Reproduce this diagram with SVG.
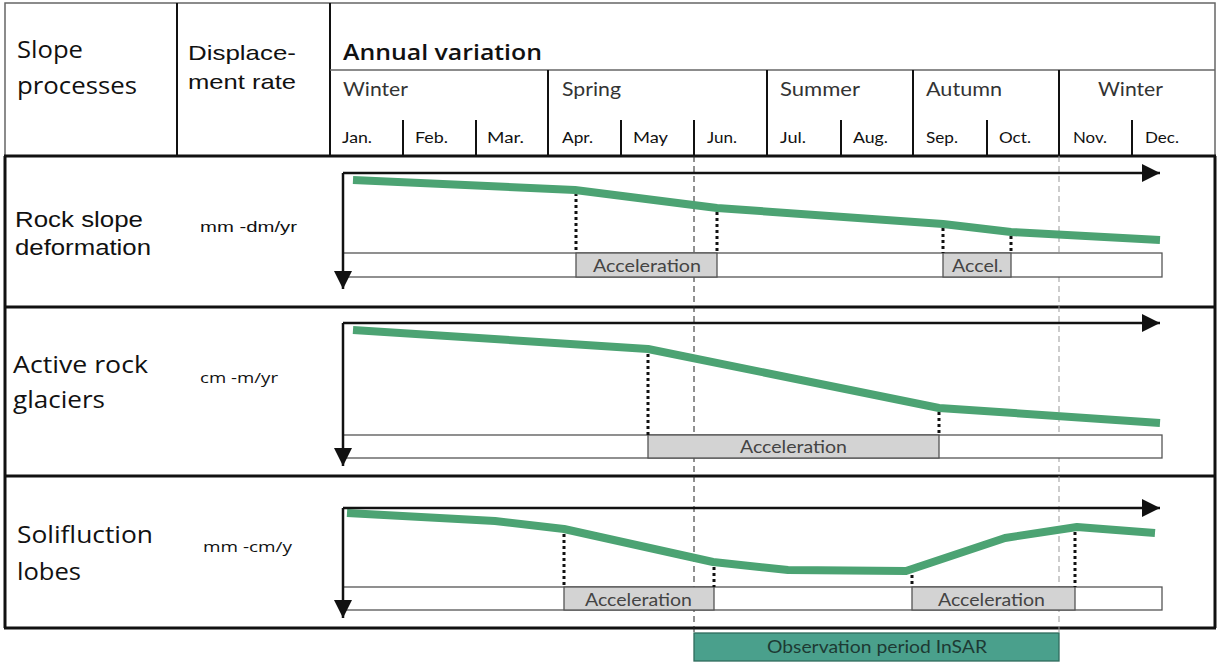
<svg xmlns="http://www.w3.org/2000/svg" width="1218" height="662" viewBox="0 0 1218 662">
<style>
.hd{font-family:"Open Sans","Liberation Sans",sans-serif;fill:#111}
.ar{font-family:"Liberation Sans",Arial,sans-serif;fill:#111}
.ss{font-family:Lato,"Open Sans",sans-serif;fill:#333;font-size:19px}
.mo{font-family:Lato,"Open Sans",sans-serif;fill:#111;font-size:15px}
.acc{font-family:Lato,"Open Sans",sans-serif;fill:#444;font-size:17px}
.thin{stroke:#666;stroke-width:1.5;fill:none}
.blk{stroke:#111;stroke-width:2;fill:none}
.thick{stroke:#111;stroke-width:3;fill:none}
.axis{stroke:#111;stroke-width:2.5;fill:none}
.grn{stroke:#4ca373;stroke-width:8;fill:none;stroke-linejoin:round}
.dot{stroke:#111;stroke-width:3;stroke-dasharray:3 3;fill:none}
.bar{fill:#fff;stroke:#555;stroke-width:1.3}
.abar{fill:#d3d3d3;stroke:#555;stroke-width:1.3}
</style>
<defs>
<marker id="ah" viewBox="0 0 10 10" refX="10" refY="5" markerWidth="18" markerHeight="18" markerUnits="userSpaceOnUse" orient="auto"><path d="M0,0 L10,5 L0,10 z" fill="#111"/></marker>
</defs>
<rect x="0" y="0" width="1218" height="662" fill="#fff"/>

<g id="header">
<rect x="5" y="3" width="1210" height="153" class="thin"/>
<line x1="177" y1="3" x2="177" y2="156" class="blk"/>
<line x1="330" y1="3" x2="330" y2="156" class="blk"/>
<line x1="330" y1="70" x2="1215" y2="70" class="thin"/>
<line x1="548" y1="70" x2="548" y2="156" class="blk"/>
<line x1="767" y1="70" x2="767" y2="156" class="blk"/>
<line x1="913" y1="70" x2="913" y2="156" class="blk"/>
<line x1="1059" y1="70" x2="1059" y2="156" class="blk"/>
<g class="blk">
<line x1="403" y1="120" x2="403" y2="156"/>
<line x1="476" y1="120" x2="476" y2="156"/>
<line x1="621" y1="120" x2="621" y2="156"/>
<line x1="694" y1="120" x2="694" y2="156"/>
<line x1="841" y1="120" x2="841" y2="156"/>
<line x1="987" y1="120" x2="987" y2="156"/>
<line x1="1132" y1="120" x2="1132" y2="156"/>
</g>
<text class="hd" x="17" y="58" font-size="23" textLength="66" lengthAdjust="spacingAndGlyphs">Slope</text>
<text class="hd" x="17" y="94" font-size="23" textLength="120" lengthAdjust="spacingAndGlyphs">processes</text>
<text class="ar" x="188" y="60" font-size="21" textLength="108" lengthAdjust="spacingAndGlyphs">Displace-</text>
<text class="ar" x="188" y="89" font-size="21" textLength="108" lengthAdjust="spacingAndGlyphs">ment rate</text>
<text class="hd" x="343" y="60" font-size="22" font-weight="600" textLength="199" lengthAdjust="spacingAndGlyphs">Annual variation</text>
<text class="ss" x="343" y="96" textLength="65" lengthAdjust="spacingAndGlyphs">Winter</text>
<text class="ss" x="562" y="96" textLength="59" lengthAdjust="spacingAndGlyphs">Spring</text>
<text class="ss" x="780" y="96" textLength="80" lengthAdjust="spacingAndGlyphs">Summer</text>
<text class="ss" x="926" y="96" textLength="76" lengthAdjust="spacingAndGlyphs">Autumn</text>
<text class="ss" x="1098" y="96" textLength="65" lengthAdjust="spacingAndGlyphs">Winter</text>
<text class="mo" x="342" y="143" textLength="30" lengthAdjust="spacingAndGlyphs">Jan.</text>
<text class="mo" x="415" y="143" textLength="33" lengthAdjust="spacingAndGlyphs">Feb.</text>
<text class="mo" x="487" y="143" textLength="37" lengthAdjust="spacingAndGlyphs">Mar.</text>
<text class="mo" x="562" y="143" textLength="31" lengthAdjust="spacingAndGlyphs">Apr.</text>
<text class="mo" x="633" y="143" textLength="35" lengthAdjust="spacingAndGlyphs">May</text>
<text class="mo" x="707" y="143" textLength="30" lengthAdjust="spacingAndGlyphs">Jun.</text>
<text class="mo" x="780" y="143" textLength="26" lengthAdjust="spacingAndGlyphs">Jul.</text>
<text class="mo" x="853" y="143" textLength="35" lengthAdjust="spacingAndGlyphs">Aug.</text>
<text class="mo" x="926" y="143" textLength="32" lengthAdjust="spacingAndGlyphs">Sep.</text>
<text class="mo" x="999" y="143" textLength="32" lengthAdjust="spacingAndGlyphs">Oct.</text>
<text class="mo" x="1073" y="143" textLength="34" lengthAdjust="spacingAndGlyphs">Nov.</text>
<text class="mo" x="1145" y="143" textLength="34" lengthAdjust="spacingAndGlyphs">Dec.</text>
</g>

<g id="frame">
<line x1="5" y1="156" x2="5" y2="628" class="thick"/>
<line x1="1215" y1="156" x2="1215" y2="628" class="thick"/>
<line x1="4" y1="156" x2="1216" y2="156" class="thick"/>
<line x1="4" y1="307" x2="1216" y2="307" class="thick"/>
<line x1="4" y1="476" x2="1216" y2="476" class="thick"/>
<line x1="4" y1="628" x2="1216" y2="628" class="thick"/>
</g>

<g id="guides">
<line x1="694" y1="156" x2="694" y2="634" stroke="#222" stroke-width="1" stroke-dasharray="6 4"/>
<line x1="1059" y1="156" x2="1059" y2="634" stroke="#999" stroke-width="1" stroke-dasharray="6 4"/>
</g>

<g id="row-rock-slope">
<text class="ar" x="15" y="227" font-size="22" textLength="128" lengthAdjust="spacingAndGlyphs">Rock slope</text>
<text class="ar" x="15" y="255" font-size="22" textLength="136" lengthAdjust="spacingAndGlyphs">deformation</text>
<text class="ar" x="200" y="232" font-size="15" textLength="97" lengthAdjust="spacingAndGlyphs">mm -dm/yr</text>
<rect x="343" y="253" width="819" height="24" class="bar"/>
<rect x="576" y="253" width="141" height="24" class="abar"/>
<rect x="943" y="253" width="68" height="24" class="abar"/>
<text class="acc" x="593" y="272" textLength="108" lengthAdjust="spacingAndGlyphs">Acceleration</text>
<text class="acc" x="952" y="272" textLength="51" lengthAdjust="spacingAndGlyphs">Accel.</text>
<line x1="576" y1="193" x2="576" y2="253" class="dot"/>
<line x1="717" y1="212" x2="717" y2="253" class="dot"/>
<line x1="943" y1="228" x2="943" y2="253" class="dot"/>
<line x1="1011" y1="236" x2="1011" y2="253" class="dot"/>
<polyline points="353,180 575,190 717,208 943,224 1011,232 1160,240" class="grn"/>
</g>

<g id="row-rock-glaciers">
<text class="hd" x="13" y="373" font-size="24" textLength="135" lengthAdjust="spacingAndGlyphs">Active rock</text>
<text class="hd" x="13" y="408" font-size="24" textLength="92" lengthAdjust="spacingAndGlyphs">glaciers</text>
<text class="hd" x="200" y="383" font-size="15" textLength="78" lengthAdjust="spacingAndGlyphs">cm -m/yr</text>
<rect x="343" y="435" width="819" height="23" class="bar"/>
<rect x="648" y="435" width="291" height="23" class="abar"/>
<text class="acc" x="740" y="453" textLength="107" lengthAdjust="spacingAndGlyphs">Acceleration</text>
<line x1="648" y1="354" x2="648" y2="435" class="dot"/>
<line x1="939" y1="412" x2="939" y2="435" class="dot"/>
<polyline points="353,330 648,349 939,408 1160,423" class="grn"/>
</g>

<g id="row-solifluction">
<text class="hd" x="17" y="543" font-size="24" textLength="136" lengthAdjust="spacingAndGlyphs">Solifluction</text>
<text class="hd" x="17" y="580" font-size="24" textLength="64" lengthAdjust="spacingAndGlyphs">lobes</text>
<text class="hd" x="203" y="552" font-size="15" textLength="89" lengthAdjust="spacingAndGlyphs">mm -cm/y</text>
<rect x="343" y="587" width="819" height="23" class="bar"/>
<rect x="564" y="587" width="150" height="23" class="abar"/>
<rect x="912" y="587" width="163" height="23" class="abar"/>
<text class="acc" x="585" y="606" textLength="107" lengthAdjust="spacingAndGlyphs">Acceleration</text>
<text class="acc" x="938" y="606" textLength="107" lengthAdjust="spacingAndGlyphs">Acceleration</text>
<line x1="564" y1="534" x2="564" y2="587" class="dot"/>
<line x1="714" y1="567" x2="714" y2="587" class="dot"/>
<line x1="912" y1="575" x2="912" y2="587" class="dot"/>
<line x1="1075" y1="532" x2="1075" y2="587" class="dot"/>
<polyline points="347,513 495,521 564,529 713,562 788,570 906,571 1005,538 1077,527 1155,533" class="grn"/>
</g>

<g id="axes">
<line x1="343" y1="173" x2="1160" y2="173" class="axis" marker-end="url(#ah)"/>
<line x1="343" y1="173" x2="343" y2="289" class="axis" marker-end="url(#ah)"/>
<line x1="343" y1="323" x2="1160" y2="323" class="axis" marker-end="url(#ah)"/>
<line x1="343" y1="323" x2="343" y2="466" class="axis" marker-end="url(#ah)"/>
<line x1="343" y1="508" x2="1160" y2="508" class="axis" marker-end="url(#ah)"/>
<line x1="343" y1="508" x2="343" y2="618" class="axis" marker-end="url(#ah)"/>
</g>

<g id="observation">
<rect x="694" y="633" width="365" height="28" fill="#4aa08c" stroke="#2f6b5c" stroke-width="1.3"/>
<text x="767" y="653" font-family="Lato,'Open Sans',sans-serif" font-size="17" fill="#1d3a33" textLength="220" lengthAdjust="spacingAndGlyphs">Observation period InSAR</text>
</g>
</svg>
